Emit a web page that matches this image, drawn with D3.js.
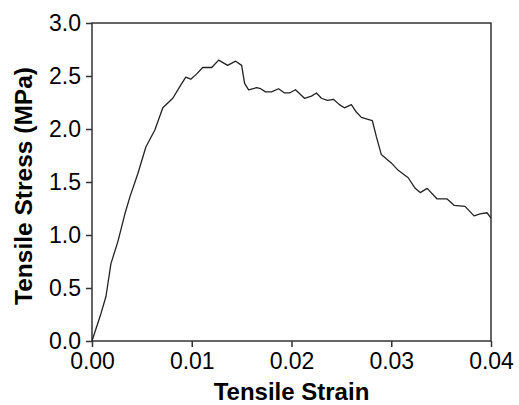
<!DOCTYPE html>
<html>
<head>
<meta charset="utf-8">
<script src="https://cdn.jsdelivr.net/npm/d3@7"></script>
<style>
	body { margin: 0; background: #fff; }
	svg { display: block; }
</style>
</head>
<body>
<div id="chart"></div>
<script>
// readings taken off the reference curve
const strain = [0.0000, 0.0009, 0.0014, 0.0019, 0.0026, 0.0033, 0.0038, 0.0046, 0.0054, 0.0063,
	0.0071, 0.0081, 0.0088, 0.0094, 0.0099, 0.0105, 0.0111, 0.0120, 0.0127, 0.0136,
	0.0144, 0.0150, 0.0153, 0.0157, 0.0165, 0.0169, 0.0174, 0.0180, 0.0187, 0.0193,
	0.0198, 0.0204, 0.0213, 0.0220, 0.0225, 0.0230, 0.0236, 0.0242, 0.0248, 0.0253,
	0.0260, 0.0265, 0.0270, 0.0281, 0.0285, 0.0290, 0.0300, 0.0307, 0.0317, 0.0324,
	0.0329, 0.0336, 0.0346, 0.0356, 0.0363, 0.0374, 0.0383, 0.0389, 0.0396, 0.0400];
const stress = [0.00, 0.26, 0.42, 0.73, 0.94, 1.20, 1.36, 1.58, 1.83, 1.99,
	2.20, 2.29, 2.40, 2.49, 2.47, 2.52, 2.58, 2.58, 2.65, 2.60,
	2.64, 2.60, 2.43, 2.37, 2.39, 2.38, 2.35, 2.35, 2.38, 2.34,
	2.34, 2.37, 2.29, 2.31, 2.34, 2.29, 2.27, 2.28, 2.23, 2.20,
	2.23, 2.16, 2.11, 2.08, 1.93, 1.76, 1.68, 1.61, 1.54, 1.44,
	1.40, 1.44, 1.34, 1.34, 1.28, 1.27, 1.18, 1.20, 1.21, 1.16];
const xTicks = [0, 0.01, 0.02, 0.03, 0.04];
const yTicks = [0, 0.5, 1.0, 1.5, 2.0, 2.5, 3.0];

const width = 519, height = 405;
const margin = {top: 23, right: 28, bottom: 64, left: 92};
const font = "'Liberation Sans', Arial, sans-serif";

const svg = d3.select("#chart").append("svg")
	.attr("width", width)
	.attr("height", height);

const x = d3.scaleLinear()
	.domain([0, 0.04])
	.range([margin.left, width - margin.right]);
const y = d3.scaleLinear()
	.domain([0, 3])
	.range([height - margin.bottom, margin.top]);

// frame
svg.append("rect")
	.attr("x", x(0))
	.attr("y", y(3))
	.attr("width", x(0.04) - x(0))
	.attr("height", y(0) - y(3))
	.attr("fill", "none")
	.attr("stroke", "#333")
	.attr("stroke-width", 1.5);

let xAxis = g => g
	.attr("transform", `translate(0,${y(0)})`)
	.call(d3.axisBottom(x).tickValues(xTicks).tickFormat(d3.format(".2f")).tickSize(6).tickPadding(6))
	.call(g => g.select(".domain").remove());

let yAxis = g => g
	.attr("transform", `translate(${x(0)},0)`)
	.call(d3.axisLeft(y).tickValues(yTicks).tickFormat(d3.format(".1f")).tickSize(6).tickPadding(5))
	.call(g => g.select(".domain").remove());

svg.append("g").attr("class", "xaxis").call(xAxis);
svg.append("g").attr("class", "yaxis").call(yAxis);

svg.selectAll(".tick line").attr("stroke", "#333").attr("stroke-width", 1.5);
svg.selectAll(".tick text")
	.attr("fill", "#000")
	.style("font", `23px ${font}`);

const line = d3.line()
	.x((d, i) => x(strain[i]))
	.y(d => y(d));

svg.append("path")
	.datum(stress)
	.attr("fill", "none")
	.attr("stroke", "#222")
	.attr("stroke-width", 1.3)
	.attr("stroke-linejoin", "round")
	.attr("d", line);

svg.append("text")
	.attr("x", (x(0) + x(0.04)) / 2)
	.attr("y", 400)
	.attr("text-anchor", "middle")
	.style("font", `bold 24px ${font}`)
	.text("Tensile Strain");

svg.append("text")
	.attr("transform", `translate(32,${(y(0) + y(3)) / 2 + 4}) rotate(-90)`)
	.attr("text-anchor", "middle")
	.style("font", `bold 24.5px ${font}`)
	.text("Tensile Stress (MPa)");
</script>
</body>
</html>
